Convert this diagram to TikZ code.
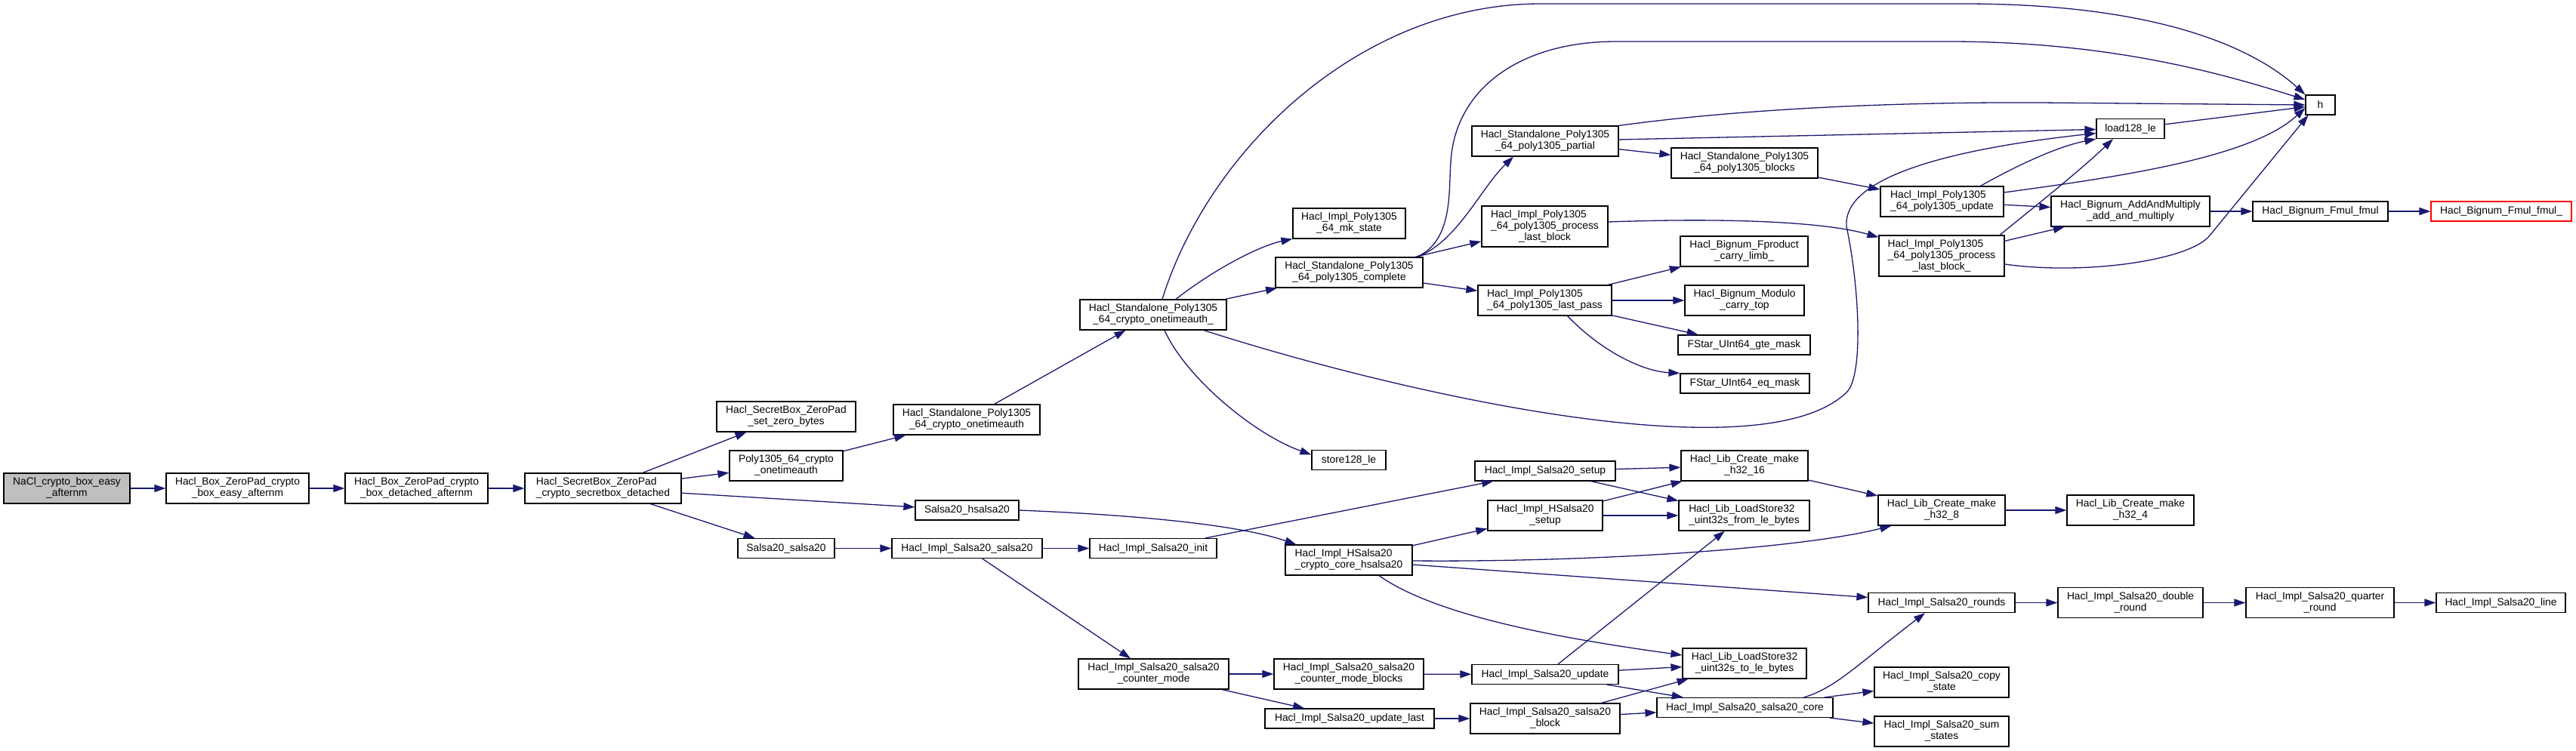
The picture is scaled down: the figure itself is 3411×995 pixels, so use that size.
\documentclass[tikz,border=0pt]{standalone}
\usepackage{fontspec}
\setmainfont{Liberation Sans}
\usetikzlibrary{arrows.meta}
\definecolor{CallBlue}{HTML}{191970}
\definecolor{RootGrey}{HTML}{BFBFBF}

\newcommand{\twoline}[2]{\begin{tabular}{@{}l@{}}#1\\\multicolumn{1}{@{}c@{}}{#2}\end{tabular}}
\newcommand{\threeline}[3]{\begin{tabular}{@{}l@{}}#1\\#2\\\multicolumn{1}{@{}c@{}}{#3}\end{tabular}}

\begin{document}
\begin{tikzpicture}[
        x=1pt, y=-1pt,
        font=\fontsize{13.8}{15}\selectfont,
        line/.style={draw=CallBlue, line width=1.3pt, -{Triangle[length=15pt,width=10pt]}},
        fn/.style={
            rectangle, draw=black, line width=1.2pt, fill=white,
            inner sep=2pt, minimum height=26pt
        },
        two/.style={fn, minimum height=40pt},
        three/.style={fn, minimum height=54pt},
        root/.style={fill=RootGrey},
        trunc/.style={draw=red}
    ]
    \useasboundingbox (0,0) rectangle (3411,995);

    % --- Entry chain ---
    \node[two, root, minimum width=167pt] (nacl) at (88.5,647) {\twoline{NaCl\_crypto\_box\_easy}{\_afternm}};
    \node[two, minimum width=189pt] (boxeasy) at (314.5,647) {\twoline{Hacl\_Box\_ZeroPad\_crypto}{\_box\_easy\_afternm}};
    \node[two, minimum width=189pt] (boxdet) at (551.5,647) {\twoline{Hacl\_Box\_ZeroPad\_crypto}{\_box\_detached\_afternm}};
    \node[two, minimum width=207pt] (secbox) at (798.5,647) {\twoline{Hacl\_SecretBox\_ZeroPad}{\_crypto\_secretbox\_detached}};
    \node[two, minimum width=184pt] (zerobytes) at (1041,552) {\twoline{Hacl\_SecretBox\_ZeroPad}{\_set\_zero\_bytes}};
    \node[two, minimum width=150pt] (polyauth) at (1041,617) {\twoline{Poly1305\_64\_crypto}{\_onetimeauth}};
    \node[fn, minimum width=137pt] (hsalsa) at (1280.5,676) {Salsa20\_hsalsa20};
    \node[fn, minimum width=128pt] (salsa) at (1041,726.5) {Salsa20\_salsa20};

    % --- Poly1305 side ---
    \node[two, minimum width=194pt] (sauth) at (1280,556) {\twoline{Hacl\_Standalone\_Poly1305}{\_64\_crypto\_onetimeauth}};
    \node[two, minimum width=194pt] (sauthu) at (1527,417) {\twoline{Hacl\_Standalone\_Poly1305}{\_64\_crypto\_onetimeauth\_}};
    \node[two, minimum width=149pt] (mkstate) at (1786.5,296) {\twoline{Hacl\_Impl\_Poly1305}{\_64\_mk\_state}};
    \node[two, minimum width=195pt] (complete) at (1786.5,361) {\twoline{Hacl\_Standalone\_Poly1305}{\_64\_poly1305\_complete}};
    \node[fn, minimum width=98pt] (store) at (1786,609.5) {store128\_le};
    \node[two, minimum width=194pt] (partial) at (2046,187) {\twoline{Hacl\_Standalone\_Poly1305}{\_64\_poly1305\_partial}};
    \node[three, minimum width=167pt] (plastblk) at (2045.5,300) {\threeline{Hacl\_Impl\_Poly1305}{\_64\_poly1305\_process}{\_last\_block}};
    \node[two, minimum width=177pt] (lastpass) at (2045.5,398) {\twoline{Hacl\_Impl\_Poly1305}{\_64\_poly1305\_last\_pass}};
    \node[two, minimum width=194pt] (blocks) at (2310,216) {\twoline{Hacl\_Standalone\_Poly1305}{\_64\_poly1305\_blocks}};
    \node[two, minimum width=169pt] (carrylimb) at (2309.5,333) {\twoline{Hacl\_Bignum\_Fproduct}{\_carry\_limb\_}};
    \node[two, minimum width=158pt] (carrytop) at (2310,398) {\twoline{Hacl\_Bignum\_Modulo}{\_carry\_top}};
    \node[fn, minimum width=175pt] (gtemask) at (2309.5,457) {FStar\_UInt64\_gte\_mask};
    \node[fn, minimum width=171pt] (eqmask) at (2310.5,508) {FStar\_UInt64\_eq\_mask};
    \node[two, minimum width=163pt] (update) at (2571.5,267) {\twoline{Hacl\_Impl\_Poly1305}{\_64\_poly1305\_update}};
    \node[three, minimum width=166pt] (plastblku) at (2571,339) {\threeline{Hacl\_Impl\_Poly1305}{\_64\_poly1305\_process}{\_last\_block\_}};
    \node[fn, minimum width=90pt] (load) at (2821,170.5) {load128\_le};
    \node[fn, minimum width=39pt] (h) at (3072.5,139) {h};
    \node[two, minimum width=210pt] (addmul) at (2821,280) {\twoline{Hacl\_Bignum\_AddAndMultiply}{\_add\_and\_multiply}};
    \node[fn, minimum width=179pt] (fmul) at (3072.5,280) {Hacl\_Bignum\_Fmul\_fmul};
    \node[fn, trunc, minimum width=186pt] (fmulu) at (3312,280) {Hacl\_Bignum\_Fmul\_fmul\_};

    % --- Salsa20 side ---
    \node[fn, minimum width=199pt] (isalsa) at (1280.5,726.5) {Hacl\_Impl\_Salsa20\_salsa20};
    \node[fn, minimum width=168pt] (init) at (1527,726.5) {Hacl\_Impl\_Salsa20\_init};
    \node[two, minimum width=168pt] (corehs) at (1786,742) {\twoline{Hacl\_Impl\_HSalsa20}{\_crypto\_core\_hsalsa20}};
    \node[fn, minimum width=186pt] (setup) at (2046,624) {Hacl\_Impl\_Salsa20\_setup};
    \node[two, minimum width=152pt] (hsetup) at (2046,683) {\twoline{Hacl\_Impl\_HSalsa20}{\_setup}};
    \node[two, minimum width=168pt] (mkxvi) at (2310,617) {\twoline{Hacl\_Lib\_Create\_make}{\_h32\_16}};
    \node[two, minimum width=173pt] (fromle) at (2309.5,683) {\twoline{Hacl\_Lib\_LoadStore32}{\_uint32s\_from\_le\_bytes}};
    \node[two, minimum width=168pt] (mkviii) at (2571,676) {\twoline{Hacl\_Lib\_Create\_make}{\_h32\_8}};
    \node[two, minimum width=168pt] (mkiv) at (2821,676) {\twoline{Hacl\_Lib\_Create\_make}{\_h32\_4}};
    \node[fn, minimum width=194pt] (rounds) at (2571,798.5) {Hacl\_Impl\_Salsa20\_rounds};
    \node[two, minimum width=192pt] (dround) at (2821,798.5) {\twoline{Hacl\_Impl\_Salsa20\_double}{\_round}};
    \node[two, minimum width=196pt] (qround) at (3072,798.5) {\twoline{Hacl\_Impl\_Salsa20\_quarter}{\_round}};
    \node[fn, minimum width=171pt] (sline) at (3311.5,798.5) {Hacl\_Impl\_Salsa20\_line};
    \node[two, minimum width=199pt] (ctr) at (1527.5,893) {\twoline{Hacl\_Impl\_Salsa20\_salsa20}{\_counter\_mode}};
    \node[two, minimum width=198pt] (ctrblk) at (1786,893) {\twoline{Hacl\_Impl\_Salsa20\_salsa20}{\_counter\_mode\_blocks}};
    \node[fn, minimum width=224pt] (updlast) at (1787,952) {Hacl\_Impl\_Salsa20\_update\_last};
    \node[fn, minimum width=194pt] (supdate) at (2046,893.5) {Hacl\_Impl\_Salsa20\_update};
    \node[two, minimum width=198pt] (sblock) at (2046,952) {\twoline{Hacl\_Impl\_Salsa20\_salsa20}{\_block}};
    \node[two, minimum width=164pt] (tole) at (2310,879) {\twoline{Hacl\_Lib\_LoadStore32}{\_uint32s\_to\_le\_bytes}};
    \node[fn, minimum width=233pt] (score) at (2310.5,937.5) {Hacl\_Impl\_Salsa20\_salsa20\_core};
    \node[two, minimum width=178pt] (copyst) at (2571,904) {\twoline{Hacl\_Impl\_Salsa20\_copy}{\_state}};
    \node[two, minimum width=178pt] (sumst) at (2571,969) {\twoline{Hacl\_Impl\_Salsa20\_sum}{\_states}};

    % --- Calls: entry chain ---
    \path[line] (nacl) -- (boxeasy);
    \path[line] (boxeasy) -- (boxdet);
    \path[line] (boxdet) -- (secbox);
    \path[line] (secbox) -- (zerobytes);
    \path[line] (secbox) -- (polyauth);
    \path[line] (secbox) -- (hsalsa);
    \path[line] (secbox) -- (salsa);
    \path[line] (polyauth) -- (sauth);
    \path[line] (sauth) -- (sauthu);

    % --- Calls: Poly1305 ---
    \path[line] ([xshift=12pt]sauthu.north) .. controls (1600,200) and (1800,5) .. (2040,5)
        -- (2600,5) .. controls (2850,5) and (2980,60) .. (h.north west);
    \path[line] ([xshift=30pt]sauthu.north) .. controls (1610,355) and (1670,325) .. (mkstate.south west);
    \path[line] (sauthu) -- (complete);
    \path[line] ([xshift=15pt]sauthu.south) .. controls (1570,500) and (1660,575) .. ([yshift=7pt]store.west);
    \path[line] ([xshift=67pt]sauthu.south) .. controls (1850,520) and (2330,630) .. (2445,520)
        .. controls (2468,498) and (2462,380) .. (2445,300)
        .. controls (2440,240) and (2560,200) .. ([yshift=-6pt]load.west);
    \path[line] ([xshift=-9pt]complete.north east) .. controls (1925,320) and (1918,250) .. (1921,215)
        .. controls (1926,120) and (2010,55) .. (2140,55)
        -- (2580,55) .. controls (2800,55) and (2950,100) .. ([yshift=7pt]h.west);
    \path[line] ([xshift=-8pt]complete.north east) .. controls (1930,320) and (1960,250) .. ([xshift=-42pt]partial.south);
    \path[line] (complete) -- (plastblk);
    \path[line] (complete) -- (lastpass);
    \path[line] (partial.north east) .. controls (2300,145) and (2500,135) .. (2700,136) -- (h.west);
    \path[line] (partial) -- (load);
    \path[line] (partial) -- (blocks);
    \path[line] ([yshift=6pt]plastblk.east) .. controls (2300,288) and (2420,295) .. ([yshift=-3pt]plastblku.north west);
    \path[line] (lastpass) -- (carrylimb);
    \path[line] (lastpass) -- (carrytop);
    \path[line] (lastpass) -- (gtemask);
    \path[line] ([xshift=30pt]lastpass.south) .. controls (2120,465) and (2175,492) .. (eqmask.north west);
    \path[line] (blocks) -- (update);
    \path[line] ([xshift=51pt]update.north) .. controls (2660,225) and (2720,195) .. (load.south west);
    \path[line] ([yshift=12pt]update.east) .. controls (2800,235) and (2980,210) .. ([yshift=-4pt]h.west);
    \path[line] (update) -- (addmul);
    \path[line] ([xshift=77pt]plastblku.north) .. controls (2680,285) and (2750,230) .. ([xshift=-23pt]load.south);
    \path[line] (plastblku) -- (addmul);
    \path[line] ([yshift=-11pt]plastblku.east) .. controls (2760,365) and (2900,345) .. (2926,312) -- ([xshift=4pt]h.south west);
    \path[line] (load) -- (h);
    \path[line] (addmul) -- (fmul);
    \path[line] (fmul) -- (fmulu);

    % --- Calls: Salsa20 ---
    \path[line] (hsalsa.east) .. controls (1500,682) and (1640,695) .. ([xshift=15pt]corehs.north west);
    \path[line] (salsa) -- (isalsa);
    \path[line] (isalsa) -- (init);
    \path[line] (isalsa) -- (ctr);
    \path[line] (init) -- (setup);
    \path[line] (corehs) -- (hsetup);
    \path[line] ([yshift=-1pt]corehs.east) .. controls (2100,745) and (2380,728) .. ([xshift=18pt]mkviii.south west);
    \path[line] (corehs) -- (rounds);
    \path[line] ([xshift=40pt]corehs.south) .. controls (1900,815) and (2060,845) .. ([yshift=11pt]tole.west);
    \path[line] (setup) -- (mkxvi);
    \path[line] (setup) -- (fromle);
    \path[line] (hsetup) -- (mkxvi);
    \path[line] (hsetup) -- (fromle);
    \path[line] (mkxvi) -- (mkviii);
    \path[line] (mkviii) -- (mkiv);
    \path[line] (ctr) -- (ctrblk);
    \path[line] (ctr) -- (updlast);
    \path[line] (ctrblk) -- (supdate);
    \path[line] (supdate) -- (fromle);
    \path[line] (supdate) -- (tole);
    \path[line] (supdate) -- (score);
    \path[line] (updlast) -- (sblock);
    \path[line] (sblock) -- (tole);
    \path[line] (sblock) -- (score);
    \path[line] ([xshift=78pt]score.north) .. controls (2430,912) and (2460,880) .. ([xshift=-22pt]rounds.south);
    \path[line] (score) -- (copyst);
    \path[line] (score) -- (sumst);
    \path[line] (rounds) -- (dround);
    \path[line] (dround) -- (qround);
    \path[line] (qround) -- (sline);

\end{tikzpicture}
\end{document}
